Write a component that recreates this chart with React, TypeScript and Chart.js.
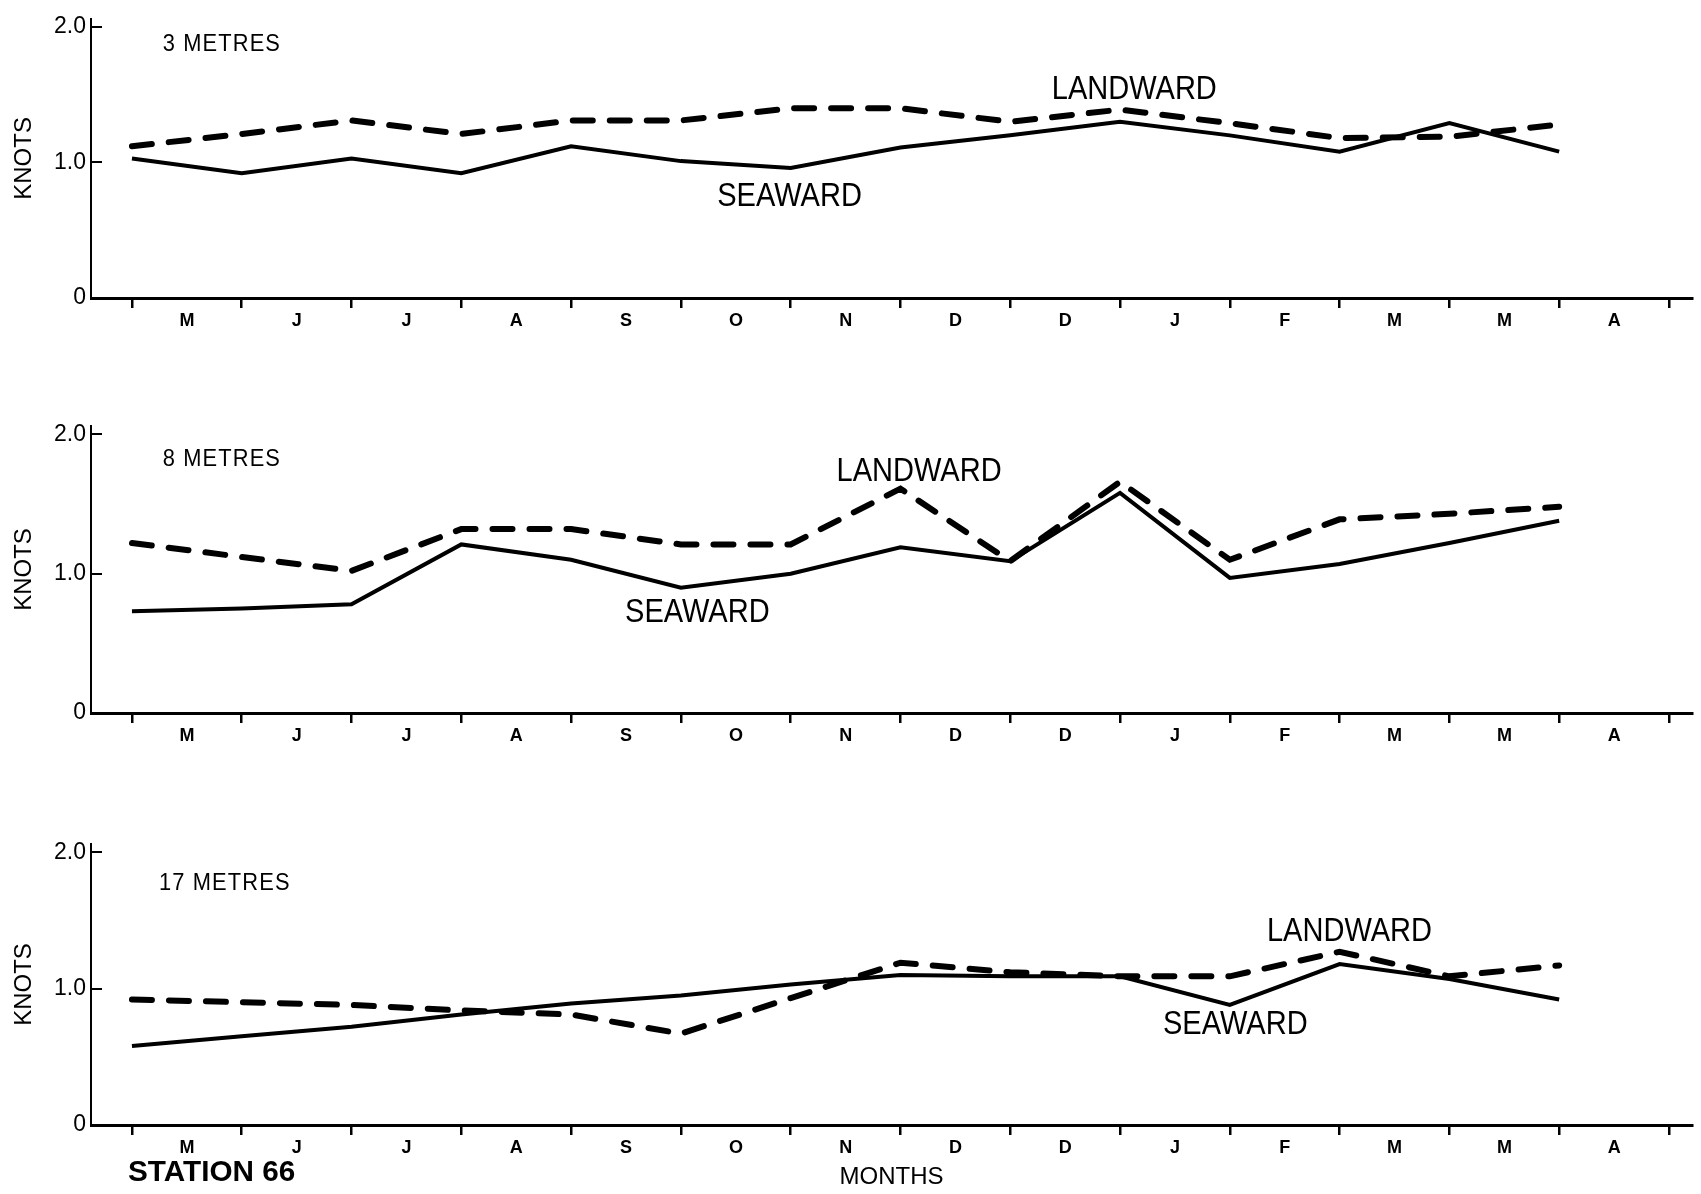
import React, { useEffect, useRef } from 'react';
import { Chart, registerables } from 'chart.js';

Chart.register(...registerables);

// ---- data -------------------------------------------------------------
const MONTH_LABELS = ['M', 'J', 'J', 'A', 'S', 'O', 'N', 'D', 'D', 'J', 'F', 'M', 'M', 'A'];
const X_TICK_VALUES = [0, 1, 2, 3, 4, 5, 6, 7, 8, 9, 10, 11, 12, 13, 14];
const Y_TICK_VALUES = [0, 1, 2];

const SEAWARD_3M = [1.03, 0.92, 1.03, 0.92, 1.12, 1.01, 0.96, 1.11, 1.2, 1.3, 1.2, 1.08, 1.29, 1.08];
const LANDWARD_3M = [1.12, 1.21, 1.31, 1.21, 1.31, 1.31, 1.4, 1.4, 1.3, 1.39, 1.29, 1.18, 1.19, 1.28];

const SEAWARD_8M = [0.73, 0.75, 0.78, 1.21, 1.1, 0.9, 1.0, 1.19, 1.09, 1.58, 0.97, 1.07, 1.22, 1.38];
const LANDWARD_8M = [1.22, 1.12, 1.02, 1.32, 1.32, 1.21, 1.21, 1.61, 1.09, 1.66, 1.1, 1.39, 1.43, 1.48];

const SEAWARD_17M = [0.58, 0.65, 0.72, 0.81, 0.89, 0.95, 1.03, 1.1, 1.09, 1.09, 0.88, 1.18, 1.07, 0.92];
const LANDWARD_17M = [0.92, 0.9, 0.88, 0.84, 0.81, 0.67, 0.93, 1.19, 1.12, 1.09, 1.09, 1.27, 1.09, 1.17];

// ---- styling / layout -------------------------------------------------
const FONT = '"Liberation Sans", Arial, Helvetica, sans-serif';
const X_MIN = -0.373;
const X_MAX = 14.21;
const Y_MAX = 2.06;

type Note = {
  text: string;
  x: number;
  y: number;
  size: number;
  bold?: boolean;
  align: CanvasTextAlign;
  sx?: number;
  spacing?: number;
};

const NOTES_3M: Note[] = [
  { text: '3 METRES', x: 0.28, y: 1.866, size: 23, align: 'left', spacing: 1.2, sx: 0.95 },
  { text: 'LANDWARD', x: 9.13, y: 1.536, size: 33, align: 'center', sx: 0.88 },
  { text: 'SEAWARD', x: 5.99, y: 0.747, size: 33, align: 'center', sx: 0.88 },
];
const NOTES_8M: Note[] = [
  { text: '8 METRES', x: 0.28, y: 1.816, size: 23, align: 'left', spacing: 1.2, sx: 0.95 },
  { text: 'LANDWARD', x: 7.17, y: 1.73, size: 33, align: 'center', sx: 0.88 },
  { text: 'SEAWARD', x: 5.15, y: 0.718, size: 33, align: 'center', sx: 0.88 },
];
const NOTES_17M: Note[] = [
  { text: '17 METRES', x: 0.246, y: 1.767, size: 23, align: 'left', spacing: 1.2, sx: 0.95 },
  { text: 'LANDWARD', x: 11.09, y: 1.415, size: 33, align: 'center', sx: 0.88 },
  { text: 'SEAWARD', x: 10.05, y: 0.733, size: 33, align: 'center', sx: 0.88 },
  { text: 'STATION 66', x: -0.036, y: -0.352, size: 30, bold: true, align: 'left', sx: 0.99 },
];

function notesPlugin(notes: Note[]) {
  return {
    id: 'notes',
    afterDraw(chart: any) {
      const ctx: CanvasRenderingContext2D = chart.ctx;
      const xs = chart.scales.x;
      const ys = chart.scales.y;
      for (const n of notes) {
        ctx.save();
        ctx.font = `${n.bold ? 'bold ' : ''}${n.size}px ${FONT}`;
        ctx.fillStyle = '#000';
        ctx.textBaseline = 'middle';
        ctx.textAlign = n.align;
        if (n.spacing) (ctx as any).letterSpacing = `${n.spacing}px`;
        ctx.translate(xs.getPixelForValue(n.x), ys.getPixelForValue(n.y));
        ctx.scale(n.sx ?? 1, 1);
        ctx.fillText(n.text, 0, 0);
        ctx.restore();
      }
    },
  };
}

type PanelProps = {
  top: number;
  height: number;
  padTop: number;
  padBottom: number;
  axisHeight: number;
  seaward: number[];
  landward: number[];
  notes: Note[];
  monthsTitle?: boolean;
};

function Panel(p: PanelProps) {
  const ref = useRef<HTMLCanvasElement>(null);
  useEffect(() => {
    const chart = new Chart(ref.current!, {
      type: 'line',
      data: {
        datasets: [
          {
            label: 'Seaward',
            data: p.seaward.map((v, i) => ({ x: i, y: v })),
            borderColor: '#000',
            backgroundColor: '#000',
            borderWidth: 4,
            pointRadius: 0,
            tension: 0,
            borderJoinStyle: 'miter',
            fill: false,
          },
          {
            label: 'Landward',
            data: p.landward.map((v, i) => ({ x: i, y: v })),
            borderColor: '#000',
            backgroundColor: '#000',
            borderWidth: 6,
            borderDash: [20, 17],
            borderCapStyle: 'round',
            pointRadius: 0,
            tension: 0,
            fill: false,
          },
        ],
      },
      options: {
        animation: false,
        responsive: false,
        events: [],
        layout: { padding: { top: p.padTop, right: 9, bottom: p.padBottom, left: 0 } },
        plugins: { legend: { display: false }, tooltip: { enabled: false } },
        scales: {
          x: {
            type: 'linear',
            min: X_MIN,
            max: X_MAX,
            afterBuildTicks: (s: any) => {
              s.ticks = X_TICK_VALUES.map((v) => ({ value: v }));
            },
            afterFit: (s: any) => {
              s.height = p.axisHeight;
            },
            ticks: {
              autoSkip: false,
              maxRotation: 0,
              labelOffset: 55,
              padding: 2,
              color: '#000',
              font: { family: FONT, size: 18, weight: 'bold' },
              callback: (_v: any, i: number) => MONTH_LABELS[i] ?? '',
            },
            grid: {
              display: true,
              drawOnChartArea: false,
              drawTicks: true,
              tickLength: 10,
              tickWidth: 2.5,
              tickColor: '#000',
              color: '#000',
              lineWidth: 2.5,
            },
            border: { display: true, color: '#000', width: 3 },
            title: {
              display: !!p.monthsTitle,
              text: 'MONTHS',
              color: '#000',
              font: { family: FONT, size: 24 },
              padding: { top: 0, bottom: 0 },
            },
          },
          y: {
            min: 0,
            max: Y_MAX,
            afterBuildTicks: (s: any) => {
              s.ticks = Y_TICK_VALUES.map((v) => ({ value: v }));
            },
            afterFit: (s: any) => {
              s.width = 91;
            },
            ticks: {
              padding: 5,
              color: '#000',
              font: { family: FONT, size: 23 },
              callback: (v: any) => (Number(v) === 0 ? '0' : Number(v).toFixed(1)),
            },
            grid: { display: true, drawOnChartArea: true, drawTicks: false, color: '#000', lineWidth: 2 },
            border: { display: true, color: '#000', width: 2, dash: [10, 4000] },
            title: {
              display: true,
              text: 'KNOTS',
              color: '#000',
              font: { family: FONT, size: 24 },
              padding: { top: 10, bottom: 0 },
            },
          },
        },
      } as any,
      plugins: [notesPlugin(p.notes)],
    });
    return () => chart.destroy();
  }, []);
  return (
    <canvas
      ref={ref}
      width={1701}
      height={p.height}
      style={{ position: 'absolute', left: 0, top: p.top, width: 1701, height: p.height, display: 'block' }}
    />
  );
}

export default function App() {
  return (
    <div style={{ position: 'absolute', left: 0, top: 0, width: 1701, height: 1194, background: '#fff', overflow: 'hidden' }}>
      <Panel top={0} height={380} padTop={11} padBottom={42} axisHeight={40} seaward={SEAWARD_3M} landward={LANDWARD_3M} notes={NOTES_3M} />
      <Panel top={380} height={420} padTop={46} padBottom={47} axisHeight={40} seaward={SEAWARD_8M} landward={LANDWARD_8M} notes={NOTES_8M} />
      <Panel top={800} height={394} padTop={44} padBottom={2} axisHeight={67} seaward={SEAWARD_17M} landward={LANDWARD_17M} notes={NOTES_17M} monthsTitle />
    </div>
  );
}
